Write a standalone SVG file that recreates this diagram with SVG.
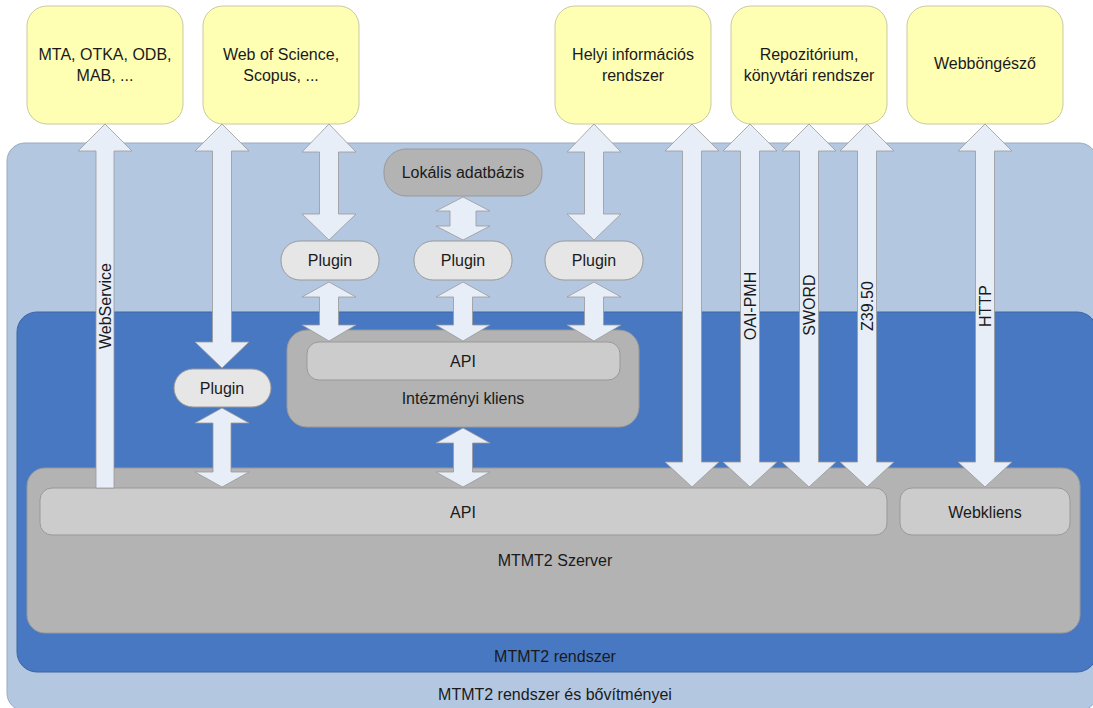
<svg xmlns="http://www.w3.org/2000/svg" width="1093" height="708" viewBox="0 0 1093 708">
<style>
text{font-family:"Liberation Sans",Arial,sans-serif;font-size:16px;fill:#1a1a1a;text-anchor:middle}
.yel{fill:#ffffb4;stroke:#c9c9a0;stroke-width:1}
.lb{fill:#b4c7e1;stroke:#9aaac2;stroke-width:1}
.db{fill:#4878c1;stroke:#3d65a3;stroke-width:1}
.srv{fill:#b3b3b3;stroke:#999;stroke-width:1}
.bar{fill:#cccccc;stroke:#999;stroke-width:1}
.plg{fill:#e6e6e6;stroke:#999;stroke-width:1}
.arr{fill:#e8eef8;stroke:#999;stroke-width:0.8}
</style>
<g id="outer">
<rect class="lb" x="7" y="143" width="1090" height="568" rx="18"/>
<text x="555" y="700">MTMT2 rendszer és bővítményei</text>
</g>
<g id="mtmt2-rendszer">
<rect class="db" x="17" y="312" width="1080" height="360" rx="20"/>
<text x="555" y="662">MTMT2 rendszer</text>
</g>
<g id="szerver">
<rect class="srv" x="27" y="468" width="1053" height="165" rx="18"/>
<text x="555" y="566">MTMT2 Szerver</text>
</g>
<g id="api-server">
<rect class="bar" x="40" y="488" width="847" height="47" rx="12"/>
<text x="463" y="518">API</text>
</g>
<g id="webkliens">
<rect class="bar" x="900" y="488" width="170" height="47" rx="12"/>
<text x="985" y="518">Webkliens</text>
</g>
<g id="intezmenyi">
<rect class="srv" x="287" y="330" width="352" height="97" rx="20"/>
<text x="463" y="404">Intézményi kliens</text>
</g>
<g id="api-intezmenyi">
<rect class="bar" x="307" y="342" width="313" height="38" rx="12"/>
<text x="463" y="367">API</text>
</g>
<g id="lokalis">
<rect class="srv" x="384" y="149" width="158" height="47" rx="22"/>
<text x="463" y="178">Lokális adatbázis</text>
</g>
<g id="plugin-1">
<rect class="plg" x="174" y="369" width="97" height="38" rx="19"/>
<text x="222" y="394">Plugin</text>
</g>
<g id="plugin-2">
<rect class="plg" x="281" y="241" width="98" height="39" rx="19"/>
<text x="330" y="266">Plugin</text>
</g>
<g id="plugin-3">
<rect class="plg" x="414" y="241" width="98" height="39" rx="19"/>
<text x="463" y="266">Plugin</text>
</g>
<g id="plugin-4">
<rect class="plg" x="545" y="241" width="98" height="39" rx="19"/>
<text x="594" y="266">Plugin</text>
</g>
<g id="mta">
<rect class="yel" x="27" y="6" width="156" height="118" rx="20"/>
<text x="105" y="60">MTA, OTKA, ODB,</text>
<text x="105" y="81">MAB, ...</text>
</g>
<g id="wos">
<rect class="yel" x="203" y="6" width="156" height="118" rx="20"/>
<text x="281" y="60">Web of Science,</text>
<text x="281" y="81">Scopus, ...</text>
</g>
<g id="helyi">
<rect class="yel" x="555" y="6" width="156" height="118" rx="20"/>
<text x="633" y="60">Helyi információs</text>
<text x="633" y="81">rendszer</text>
</g>
<g id="repo">
<rect class="yel" x="731" y="6" width="156" height="118" rx="20"/>
<text x="809" y="60">Repozitórium,</text>
<text x="809" y="81">könyvtári rendszer</text>
</g>
<g id="bongeszo">
<rect class="yel" x="907" y="6" width="156" height="118" rx="20"/>
<text x="985" y="69">Webböngésző</text>
</g>
<g id="connectors">
<polygon class="arr" points="105,124 132,151 114,151 114,488 96,488 96,151 78,151"/>
<polygon class="arr" points="222,124 249,151 231.5,151 231.5,342 249,342 222,368 195,342 212.5,342 212.5,151 195,151"/>
<polygon class="arr" points="329,124 356,152 338.5,152 338.5,214 356,214 329,240 302,214 319.5,214 319.5,152 302,152"/>
<polygon class="arr" points="594,124 621,152 603.5,152 603.5,214 621,214 594,240 567,214 584.5,214 584.5,152 567,152"/>
<polygon class="arr" points="692,124 719,151 701.5,151 701.5,462 719,462 692,487 665,462 682.5,462 682.5,151 665,151"/>
<polygon class="arr" points="750,124 777,151 759.5,151 759.5,462 777,462 750,487 723,462 740.5,462 740.5,151 723,151"/>
<polygon class="arr" points="809,124 836,151 818.5,151 818.5,462 836,462 809,487 782,462 799.5,462 799.5,151 782,151"/>
<polygon class="arr" points="867,124 894,151 876.5,151 876.5,462 894,462 867,487 840,462 857.5,462 857.5,151 840,151"/>
<polygon class="arr" points="985,124 1012,151 994.5,151 994.5,462 1012,462 985,487 958,462 975.5,462 975.5,151 958,151"/>
<polygon class="arr" points="222,408 249,423 231,423 231,472 249,472 222,487 195,472 213,472 213,423 195,423"/>
<polygon class="arr" points="463,197 490,211 476,211 476,226 490,226 463,240 436,226 450,226 450,211 436,211"/>
<polygon class="arr" points="329,282 356,297 338.5,297 338.5,325 356,325 329,341 302,325 319.5,325 319.5,297 302,297"/>
<polygon class="arr" points="463,282 490,297 472.5,297 472.5,325 490,325 463,341 436,325 453.5,325 453.5,297 436,297"/>
<polygon class="arr" points="594,282 621,297 603.5,297 603.5,325 621,325 594,341 567,325 584.5,325 584.5,297 567,297"/>
<polygon class="arr" points="463,428 490,443 472.5,443 472.5,472 490,472 463,487 436,472 453.5,472 453.5,443 436,443"/>
<text transform="translate(105,306) rotate(-90)" dy="0.36em">WebService</text>
<text transform="translate(750,306) rotate(-90)" dy="0.36em">OAI-PMH</text>
<text transform="translate(809,305) rotate(-90)" dy="0.36em">SWORD</text>
<text transform="translate(867,306) rotate(-90)" dy="0.36em">Z39.50</text>
<text transform="translate(985,306) rotate(-90)" dy="0.36em">HTTP</text>
</g>
</svg>
